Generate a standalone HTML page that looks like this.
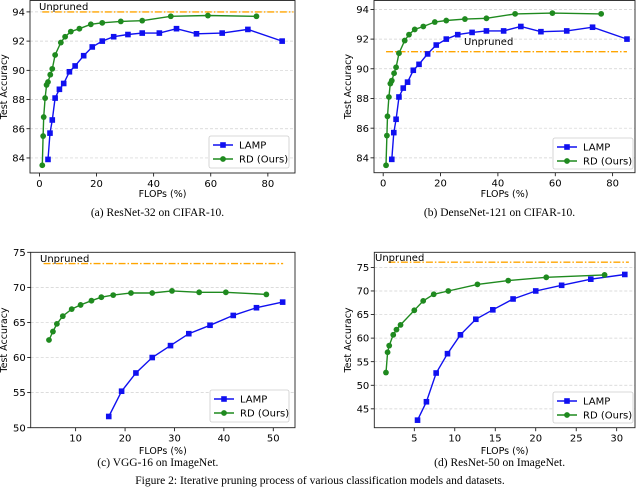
<!DOCTYPE html>
<html><head><meta charset="utf-8"><style>
body{margin:0;background:#fff;width:640px;height:492px;overflow:hidden;font-family:"DejaVu Sans","Liberation Sans",sans-serif}
svg text{font-family:"DejaVu Sans","Liberation Sans",sans-serif}
.cap{font-family:"Liberation Serif",serif}
</style></head><body>
<svg id="fig" width="640" height="492" viewBox="0 0 640 492"></svg>
<script>
// (a) ResNet-32 CIFAR-10
const aLampX=[3,3.7,4.5,5.5,7,8.5,10.5,12.5,15.5,18.5,22,26,31,36,42,48,55,64,73,85];
const aLampY=[83.9,85.7,86.6,88.1,88.7,89.1,89.9,90.3,91.0,91.6,92.0,92.3,92.45,92.55,92.55,92.85,92.5,92.55,92.8,92.0];
const aRdX=[1,1.3,1.5,2,2.5,3,3.8,4.5,5.5,7.5,9,11,14,18,22,28.5,36,46,59,76];
const aRdY=[83.5,85.5,86.8,88.1,89.0,89.2,89.7,90.1,91.05,91.9,92.3,92.65,92.85,93.15,93.25,93.35,93.4,93.7,93.75,93.7];
const aUnpruned=94.0;
const aXTicks=[0,20,40,60,80];
const aYTicks=[84,86,88,90,92,94];
// (b) DenseNet-121 CIFAR-10
const bLampX=[3,3.7,4.5,5.5,7,8.5,10.5,12.5,15.5,18.5,22,26,31,36,42,48,55,64,73,85];
const bLampY=[83.9,85.7,86.6,88.1,88.7,89.1,89.9,90.3,91.0,91.6,92.0,92.3,92.45,92.55,92.55,92.85,92.5,92.55,92.8,92.0];
const bRdX=[1,1.3,1.5,2,2.5,3,3.8,4.5,5.5,7.5,9,11,14,18,22,28.5,36,46,59,76];
const bRdY=[83.5,85.5,86.8,88.1,89.0,89.2,89.7,90.1,91.05,91.9,92.3,92.65,92.85,93.15,93.25,93.35,93.4,93.7,93.75,93.7];
const bUnpruned=91.15;
const bXTicks=[0,20,40,60,80];
const bYTicks=[84,86,88,90,92,94];
// (c) VGG-16 ImageNet
const cLampX=[16.7,19.3,22.2,25.5,29.2,32.9,37.2,41.9,46.6,51.9];
const cLampY=[51.6,55.2,57.8,60.0,61.7,63.4,64.6,66.0,67.1,67.9];
const cRdX=[4.6,5.4,6.2,7.4,9.2,11.0,13.2,15.2,17.6,21.2,25.5,29.5,35,40.4,48.6];
const cRdY=[62.5,63.7,64.8,65.9,66.9,67.5,68.1,68.6,68.9,69.2,69.2,69.5,69.3,69.3,69.0];
const cUnpruned=73.4;
const cXTicks=[10,20,30,40,50];
const cYTicks=[50,55,60,65,70,75];
// (d) ResNet-50 ImageNet
const dLampX=[5.4,6.5,7.7,9.1,10.7,12.6,14.7,17.2,20,23.2,26.8,31];
const dLampY=[42.6,46.5,52.6,56.7,60.7,64.0,66.0,68.3,70.0,71.2,72.5,73.5];
const dRdX=[1.5,1.7,1.9,2.4,2.8,3.3,5,6.1,7.4,9.2,12.8,16.6,21.3,28.5];
const dRdY=[52.7,57.0,58.4,60.7,61.8,62.8,65.9,67.9,69.3,70.0,71.4,72.2,72.9,73.4];
const dUnpruned=76.1;
const dXTicks=[5,10,15,20,25,30];
const dYTicks=[45,50,55,60,65,70,75];

const NS="http://www.w3.org/2000/svg";
const svg=document.getElementById('fig');
function mk(tag,attrs,parent){const e=document.createElementNS(NS,tag);for(const k in attrs)e.setAttribute(k,attrs[k]);(parent||svg).appendChild(e);return e;}

function chart(id,box,xd,yd,lampX,lampY,rdX,rdY,unp,unpX,xt,yt,unpLabel,legend,cap,capY,xlabY,ylabX){
  const g=mk('g',{});
  
  
  const sx=v=>box.l+(v-xd[0])/(xd[1]-xd[0])*(box.r-box.l);
  const sy=v=>box.b-(v-yd[0])/(yd[1]-yd[0])*(box.b-box.t);
  yt.forEach(v=>{
    const gl=mk('line',{x1:box.l,x2:box.r,y1:sy(v),y2:sy(v),stroke:'#d0d0d0','stroke-width':0.7,'stroke-dasharray':'3,2'},g);
    
    
    mk('line',{x1:box.l-3.5,x2:box.l,y1:sy(v),y2:sy(v),stroke:'#000','stroke-width':0.8},g);
    const t=mk('text',{x:box.l-5,y:sy(v)+3.6,'text-anchor':'end','font-size':10},g);
    t.textContent=v;
    
    
  });
  xt.forEach(v=>{
    mk('line',{x1:sx(v),x2:sx(v),y1:box.b,y2:box.b+3.5,stroke:'#000','stroke-width':0.8},g);
    const t=mk('text',{x:sx(v),y:box.b+14,'text-anchor':'middle','font-size':10},g);
    t.textContent=v;
    
    
  });
  // unpruned
  const ul=mk('line',{x1:sx(unpX[0]),x2:sx(unpX[1]),y1:sy(unp),y2:sy(unp),stroke:'#ffa500','stroke-width':1.4,'stroke-dasharray':'7,2,1.5,2'},g);
  
  
  const ut=mk('text',{x:unpLabel[0],y:unpLabel[1],'font-size':10},g);
  ut.textContent='Unpruned';
  
  
  function series(xs,ys,col,mark,name){
    const pts=xs.map((x,i)=>sx(x).toFixed(1)+','+sy(ys[i]).toFixed(1)).join(' ');
    const pl=mk('polyline',{points:pts,fill:'none',stroke:col,'stroke-width':1.4},g);
    
    
    xs.forEach((x,i)=>{
      let m;
      if(mark==='s')m=mk('rect',{x:sx(x)-2.8,y:sy(ys[i])-2.8,width:5.6,height:5.6,fill:col},g);
      else m=mk('circle',{cx:sx(x),cy:sy(ys[i]),r:2.9,fill:col},g);
      
      
    });
  }
  series(lampX,lampY,'#1010f0','s','lamp');
  series(rdX,rdY,'#1f8a1f','o','rd');
  const fr=mk('rect',{x:box.l,y:box.t,width:box.r-box.l,height:box.b-box.t,fill:'none',stroke:'#222','stroke-width':0.9},g);
  
  
  // legend
  const [lx,ly,lw,lh]=legend;
  const lg=mk('g',{},g);
  
  
  mk('rect',{x:lx,y:ly,width:lw,height:lh,rx:2,fill:'#fff',stroke:'#ccc','stroke-width':0.8},lg);
  [['LAMP','#1010f0','s'],['RD (Ours)','#1f8a1f','o']].forEach((e,i)=>{
    const yy=ly+9+i*14;
    mk('line',{x1:lx+4,x2:lx+24,y1:yy,y2:yy,stroke:e[1],'stroke-width':1.4},lg);
    if(e[2]==='s')mk('rect',{x:lx+11.2,y:yy-2.8,width:5.6,height:5.6,fill:e[1]},lg);
    else mk('circle',{cx:lx+14,cy:yy,r:2.9,fill:e[1]},lg);
    const t=mk('text',{x:lx+30,y:yy+3.6,'font-size':10},lg);
    t.textContent=e[0];
    
    
  });
  const xl=mk('text',{x:(box.l+box.r)/2,y:xlabY,'text-anchor':'middle','font-size':9.5},g);
  xl.textContent='FLOPs (%)';
  
  
  const yl=mk('text',{x:0,y:0,'text-anchor':'middle','font-size':9.5,transform:`translate(${ylabX},${(box.t+box.b)/2}) rotate(-90)`},g);
  yl.textContent='Test Accuracy';
  
  
  const ct=mk('text',{x:(box.l+box.r)/2-5,y:capY,'text-anchor':'middle','font-size':11.5,class:'cap'},g);
  ct.textContent=cap;
  
  
}

chart('a',{l:30,r:295,t:0.5,b:173},[-3.3,89.5],[82.97,94.78],aLampX,aLampY,aRdX,aRdY,aUnpruned,[1,89],aXTicks,aYTicks,[39,10],[209,136,80,32],'(a) ResNet-32 on CIFAR-10.',216,197,7);
chart('b',{l:374,r:635,t:0.5,b:172.7},[-3.2,87.8],[83.0,94.6],bLampX,bLampY,bRdX,bRdY,bUnpruned,[1,85],bXTicks,bYTicks,[464,45],[553,138,80,31],'(b) DenseNet-121 on CIFAR-10.',216,197,351);
chart('c',{l:30.7,r:295,t:252.3,b:427.7},[0.9,54.4],[50,75],cLampX,cLampY,cRdX,cRdY,cUnpruned,[3.5,52],cXTicks,cYTicks,[40,262],[210,390,79,32],'(c) VGG-16 on ImageNet.',466,454,7);
chart('d',{l:374.3,r:635,t:252.3,b:427.7},[0.06,32.26],[41.0,78.2],dLampX,dLampY,dRdX,dRdY,dUnpruned,[1.8,31.5],dXTicks,dYTicks,[375,261],[553,392,80,31],'(d) ResNet-50 on ImageNet.',466,454,351);

const fc=mk('text',{x:320,y:484,'text-anchor':'middle','font-size':11.5,class:'cap'});
fc.textContent='Figure 2: Iterative pruning process of various classification models and datasets.';


</script>
</body></html>
